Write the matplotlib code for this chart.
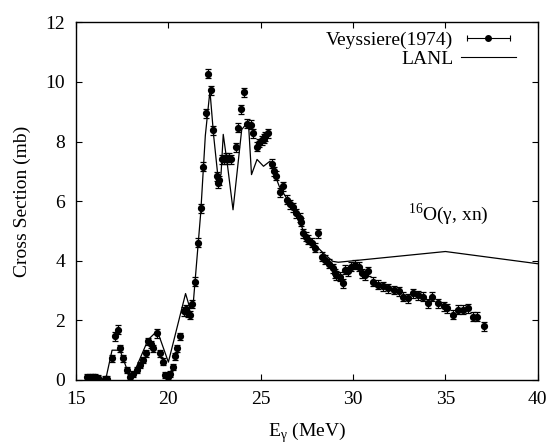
import matplotlib.pyplot as plt
from matplotlib.lines import Line2D
from matplotlib.legend_handler import HandlerLine2D

plt.rcParams['font.family'] = ['Liberation Serif', 'DejaVu Serif']
plt.rcParams['mathtext.fontset'] = 'custom'
plt.rcParams['mathtext.rm'] = 'Liberation Serif'

# Veyssiere(1974) data
e_exp = [15.6, 15.75, 15.9, 16.05, 16.2, 16.55, 16.7, 16.93, 17.1, 17.25,
         17.38, 17.52, 17.74, 17.9, 18.1, 18.28, 18.46, 18.64, 18.79, 18.9,
         19.04, 19.18, 19.4, 19.55, 19.69, 19.8, 19.99, 20.1, 20.23, 20.36,
         20.48, 20.63, 20.84, 20.93, 21.05, 21.17, 21.3, 21.44, 21.62, 21.75,
         21.89, 22.02, 22.16, 22.29, 22.43, 22.61, 22.7, 22.75, 22.88, 23.0,
         23.1, 23.2, 23.3, 23.4, 23.66, 23.78, 23.91, 24.11, 24.27, 24.45,
         24.6, 24.78, 24.9, 25.05, 25.15, 25.23, 25.4, 25.59, 25.7, 25.82,
         26.04, 26.2, 26.4, 26.57, 26.75, 26.93, 27.1, 27.2, 27.3, 27.45,
         27.57, 27.75, 27.93, 28.1, 28.3, 28.5, 28.7, 28.9, 29.0, 29.1,
         29.3, 29.43, 29.55, 29.72, 29.9, 30.1, 30.3, 30.5, 30.65, 30.8,
         31.09, 31.35, 31.6, 31.9, 32.2, 32.5, 32.7, 32.98, 33.25, 33.5,
         33.8, 34.07, 34.3, 34.6, 34.9, 35.1, 35.4, 35.7, 35.96, 36.2,
         36.5, 36.7, 37.08]
xs_exp = [0.1, 0.1, 0.1, 0.1, 0.08, 0.02, 0.05, 0.73, 1.46, 1.68,
          1.07, 0.73, 0.34, 0.1, 0.2, 0.33, 0.5, 0.67, 0.9, 1.3,
          1.2, 1.07, 1.57, 0.9, 0.62, 0.17, 0.1, 0.2, 0.45, 0.8,
          1.07, 1.46, 2.3, 2.37, 2.25, 2.18, 2.55, 3.3, 4.6, 5.76,
          7.16, 8.95, 10.28, 9.72, 8.38, 6.83, 6.6, 6.7, 7.4, 7.4,
          7.45, 7.4, 7.45, 7.4, 7.8, 8.47, 9.08, 9.65, 8.6, 8.56,
          8.27, 7.83, 7.95, 8.05, 8.1, 8.18, 8.27, 7.25, 7.0, 6.86,
          6.3, 6.5, 6.05, 5.9, 5.8, 5.6, 5.45, 5.3, 4.93, 4.8,
          4.7, 4.6, 4.43, 4.93, 4.14, 4.03, 3.9, 3.75, 3.58, 3.52,
          3.47, 3.25, 3.7, 3.64, 3.8, 3.86, 3.8, 3.58, 3.52, 3.64,
          3.3, 3.2, 3.14, 3.08, 3.02, 2.97, 2.8, 2.74, 2.91, 2.85,
          2.8, 2.58, 2.8, 2.58, 2.47, 2.41, 2.19, 2.36, 2.36, 2.41,
          2.13, 2.13, 1.8]
err_exp = [0.1, 0.1, 0.1, 0.1, 0.1, 0.1, 0.1, 0.12, 0.15, 0.15,
           0.12, 0.12, 0.1, 0.1, 0.1, 0.1, 0.1, 0.1, 0.12, 0.12,
           0.12, 0.12, 0.15, 0.12, 0.12, 0.1, 0.1, 0.1, 0.1, 0.12,
           0.12, 0.12, 0.15, 0.15, 0.15, 0.15, 0.15, 0.15, 0.15, 0.15,
           0.15, 0.15, 0.15, 0.15, 0.15, 0.15, 0.15, 0.15, 0.15, 0.15,
           0.15, 0.15, 0.15, 0.15, 0.15, 0.15, 0.15, 0.15, 0.15, 0.15,
           0.15, 0.15, 0.15, 0.15, 0.15, 0.15, 0.15, 0.15, 0.15, 0.15,
           0.15, 0.15, 0.15, 0.15, 0.15, 0.15, 0.15, 0.15, 0.15, 0.15,
           0.15, 0.15, 0.15, 0.15, 0.15, 0.15, 0.15, 0.15, 0.15, 0.15,
           0.15, 0.15, 0.15, 0.15, 0.15, 0.15, 0.15, 0.15, 0.15, 0.15,
           0.15, 0.15, 0.15, 0.15, 0.15, 0.15, 0.15, 0.15, 0.15, 0.15,
           0.15, 0.15, 0.15, 0.15, 0.15, 0.15, 0.15, 0.15, 0.15, 0.15,
           0.15, 0.15, 0.15]

# LANL evaluation
e_lanl = [16.6, 16.95, 17.38, 17.97, 18.9, 19.4, 20.0, 20.93, 21.17, 21.35,
          21.75, 22.0, 22.25, 22.45, 22.7, 22.85, 22.97, 23.2, 23.5, 23.97,
          24.33, 24.5, 24.8, 25.15, 25.5, 26.0, 26.5, 27.0, 27.4, 28.0,
          28.4, 28.9, 29.2, 35.0, 40.0]
xs_lanl = [0.0, 1.0, 1.0, 0.0, 1.35, 1.65, 0.6, 2.9, 2.4, 2.6,
           5.6, 8.2, 9.7, 8.2, 6.72, 6.9, 8.24, 7.2, 5.71, 8.4,
           8.68, 6.89, 7.4, 7.17, 7.34, 6.5, 6.0, 5.5, 4.85, 4.5,
           4.25, 3.98, 3.95, 4.31, 3.9]

fig = plt.figure(figsize=(5.51, 4.46), dpi=100)
ax = fig.add_axes([0.138, 0.148, 0.838, 0.802])

ax.errorbar(e_exp, xs_exp, yerr=err_exp, fmt='o', color='k', ms=4.2,
            elinewidth=0.9, capsize=2, capthick=0.9)
ax.plot(e_lanl, xs_lanl, color='k', lw=0.9)

ax.set_xlim(15, 40)
ax.set_ylim(0, 12)
ax.set_xticks([15, 20, 25, 30, 35, 40])
ax.set_yticks([0, 2, 4, 6, 8, 10, 12])
ax.tick_params(direction='in', top=True, right=True, length=4, width=0.8,
               labelsize=14, pad=8)
for s in ax.spines.values():
    s.set_linewidth(1.0)

ax.set_xlabel('E$_\\mathregular{γ}$ (MeV)', fontsize=14, labelpad=9)
ax.set_ylabel('Cross Section (mb)', fontsize=14, labelpad=10)

ax.text(33.0, 5.55, '$^{16}$O(γ, xn)', fontsize=14, va='center', ha='left')

# legend in gnuplot style: text first, sample on the right
bar = Line2D([], [], color='k', lw=0.8, marker='|', ms=5, mew=0.8)
dot = Line2D([], [], color='k', lw=0, marker='o', ms=4)
lanl = Line2D([], [], color='k', lw=0.8)
ax.legend([(bar, dot), lanl], ['Veyssiere(1974)', 'LANL'],
          loc='upper right', bbox_to_anchor=(0.99, 1.025), frameon=False,
          markerfirst=False, fontsize=14, handlelength=2.8,
          labelspacing=0.1, handletextpad=0.4,
          handler_map={bar: HandlerLine2D(numpoints=2),
                       dot: HandlerLine2D(numpoints=1)})

fig.savefig('out.png', dpi=100)
